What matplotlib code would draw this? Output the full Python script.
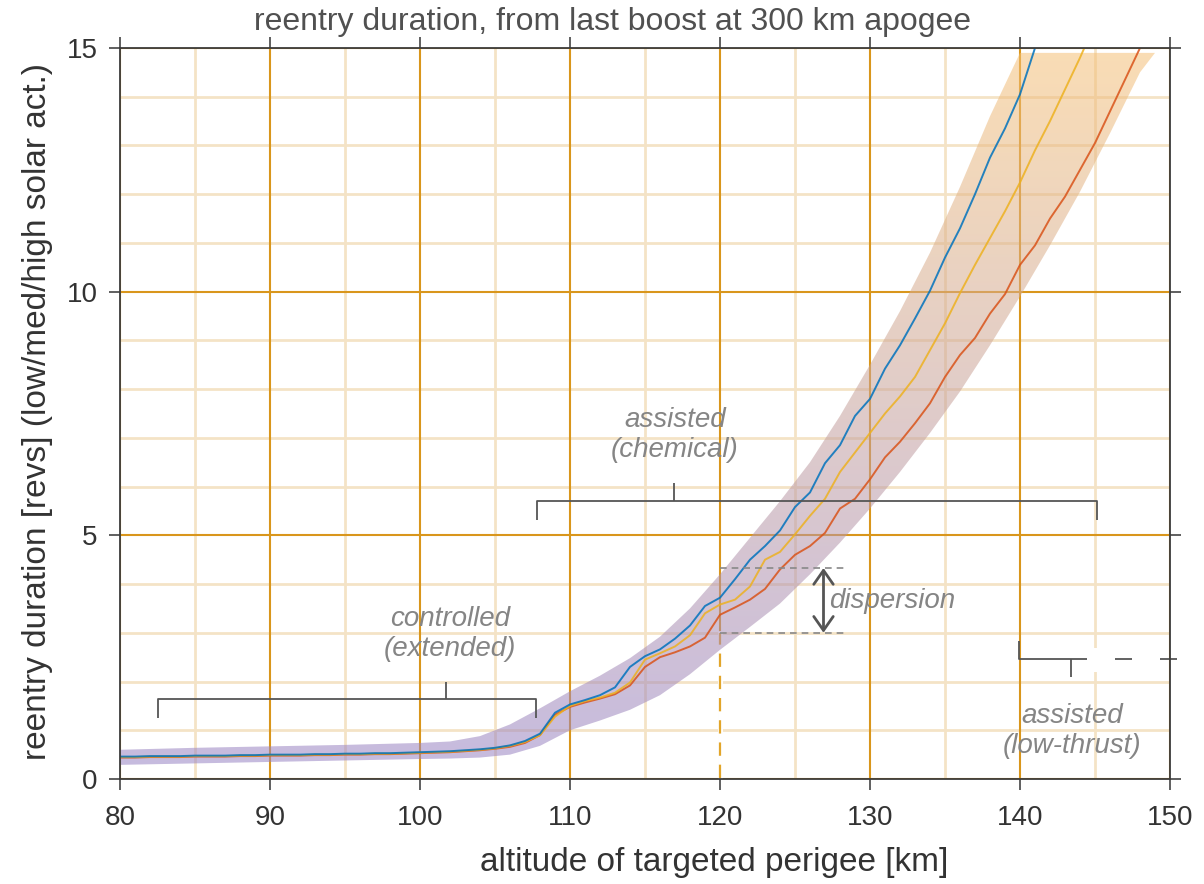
import numpy as np
import matplotlib
matplotlib.use("Agg")
import matplotlib.pyplot as plt
from matplotlib.patches import Rectangle

plt.rcParams['font.family'] = ['Liberation Sans', 'DejaVu Sans']

# targeted perigee altitude [km], 1 km steps
alt = np.arange(80, 149)

# reentry duration [revs] for low / medium / high solar activity
revs_low = [0.46, 0.46, 0.47, 0.47, 0.47, 0.48, 0.48, 0.48, 0.49, 0.49,
            0.50, 0.50, 0.50, 0.51, 0.51, 0.52, 0.52, 0.53, 0.53, 0.54,
            0.55, 0.56, 0.57, 0.59, 0.61, 0.64, 0.69, 0.78, 0.93, 1.36,
            1.53, 1.62, 1.72, 1.88, 2.30, 2.52, 2.66, 2.88, 3.15, 3.55,
            3.72, 4.10, 4.50, 4.78, 5.10, 5.58, 5.88, 6.48, 6.85, 7.45,
            7.80, 8.42, 8.90, 9.45, 10.02, 10.70, 11.30, 12.00, 12.75, 13.35,
            14.05, 15.00, 15.90]
revs_med = [0.45, 0.45, 0.46, 0.46, 0.46, 0.47, 0.47, 0.47, 0.48, 0.48,
            0.49, 0.49, 0.49, 0.50, 0.50, 0.51, 0.51, 0.52, 0.52, 0.53,
            0.54, 0.55, 0.56, 0.58, 0.60, 0.63, 0.68, 0.76, 0.90, 1.28,
            1.50, 1.60, 1.67, 1.77, 1.98, 2.45, 2.58, 2.72, 2.95, 3.40,
            3.58, 3.68, 3.95, 4.50, 4.66, 5.02, 5.40, 5.75, 6.30, 6.70,
            7.10, 7.50, 7.85, 8.25, 8.80, 9.35, 9.97, 10.55, 11.10, 11.65,
            12.24, 12.90, 13.50, 14.15, 14.80, 15.50]
revs_high = [0.44, 0.44, 0.45, 0.45, 0.45, 0.46, 0.46, 0.46, 0.47, 0.47,
             0.48, 0.48, 0.48, 0.49, 0.49, 0.50, 0.50, 0.51, 0.51, 0.52,
             0.53, 0.54, 0.55, 0.57, 0.59, 0.62, 0.66, 0.74, 0.90, 1.32,
             1.48, 1.57, 1.65, 1.74, 1.92, 2.30, 2.50, 2.60, 2.72, 2.90,
             3.37, 3.52, 3.68, 3.90, 4.30, 4.60, 4.78, 5.05, 5.55, 5.75,
             6.15, 6.60, 6.92, 7.30, 7.71, 8.25, 8.70, 9.05, 9.55, 9.95,
             10.55, 10.95, 11.50, 11.95, 12.50, 13.05, 13.70, 14.35, 15.00]

# dispersion envelope
band_alt = [80, 85, 90, 95, 100, 102, 104, 106, 108, 110, 112, 114, 116, 118,
            120, 122, 124, 126, 128, 130, 132, 134, 136, 138, 140, 142, 144,
            146, 148, 149]
band_upper = [0.60, 0.64, 0.67, 0.70, 0.74, 0.77, 0.88, 1.12, 1.45, 1.80,
              2.12, 2.48, 2.92, 3.50, 4.20, 4.95, 5.70, 6.50, 7.45, 8.50,
              9.60, 10.80, 12.15, 13.60, 15.15, 16.80, 18.50, 20.20, 21.90, 22.80]
band_lower = [0.29, 0.32, 0.35, 0.38, 0.41, 0.42, 0.44, 0.50, 0.68, 1.00,
              1.20, 1.42, 1.72, 2.15, 2.65, 3.12, 3.60, 4.20, 4.85, 5.55,
              6.30, 7.10, 7.95, 8.90, 9.90, 10.95, 12.05, 13.25, 14.50, 15.15]
band_cap = 14.9

x_major = [80, 90, 100, 110, 120, 130, 140, 150]
y_major = [0, 5, 10, 15]

W, H = 1204, 884
fig = plt.figure(figsize=(W / 100, H / 100), dpi=100)
ax = fig.add_axes([120 / W, 1 - 779 / H, 1050 / W, 731 / H])
ax.set_xlim(80, 150)
ax.set_ylim(0, 15)

# grid
for xv in np.arange(85, 150, 10):
    ax.axvline(xv, color='#f4e3c6', lw=2.0, zorder=0.5)
for yv in range(1, 15):
    if yv % 5:
        ax.axhline(yv, color='#f4e3c6', lw=2.0, zorder=0.5)
for xv in x_major:
    ax.axvline(xv, color='#d9961c', lw=1.5, zorder=0.6)
for yv in y_major:
    ax.axhline(yv, color='#d9961c', lw=1.5, zorder=0.6)

# dashed marker at 120 km below the dispersion range
ax.plot([120, 120], [0, 3.0], color='white', lw=3.5, zorder=0.8)
ax.plot([120, 120], [0.02, 3.0], color='#e2a52a', lw=1.6, ls=(0, (6, 4)), zorder=0.9)

# gradient-filled envelope
up = np.minimum(band_upper, band_cap)
lo = np.minimum(band_lower, band_cap)
env = ax.fill_between(band_alt, lo, up, facecolor='none', edgecolor='none')
t = np.linspace(0, 1, 256)[:, None]
purple = np.array([150, 130, 197]) / 255
orange = np.array([246, 193, 119]) / 255
rgb = purple * (1 - t) + orange * t
img = np.zeros((256, 2, 4))
img[:, :, :3] = rgb[:, None, :]
img[:, :, 3] = 0.55
im = ax.imshow(img, origin='lower', extent=[80, 150, 0, 15], aspect='auto',
               interpolation='bilinear', zorder=2)
im.set_clip_path(env.get_paths()[0], transform=ax.transData)

# solar activity curves
for revs, col in ((revs_high, '#D95319'), (revs_med, '#EDB120'), (revs_low, '#0072BD')):
    ax.plot(alt[:len(revs)], revs, color=col, lw=1.4, alpha=0.85, zorder=4)

br = dict(color='#555555', lw=1.3, zorder=5, solid_capstyle='butt')
# controlled (extended)
ax.plot([82.5, 82.5, 107.7, 107.7], [1.25, 1.64, 1.64, 1.25], **br)
ax.plot([101.7, 101.7], [1.64, 2.0], **br)
# assisted (chemical)
ax.plot([107.8, 107.8, 145.1, 145.1], [5.32, 5.70, 5.70, 5.32], **br)
ax.plot([116.9, 116.9], [5.70, 6.07], **br)
# assisted (low-thrust)
ax.add_patch(Rectangle((144.5, 2.2), 1.8, 0.49, facecolor='white',
                       edgecolor='none', zorder=1))
ax.plot([139.9, 139.9, 144.45], [2.83, 2.46, 2.46], **br)
ax.plot([143.4, 143.4], [2.46, 2.1], **br)
ax.plot([146.33, 147.47], [2.46, 2.46], clip_on=False, **br)
ax.plot([149.33, 150.47], [2.46, 2.46], clip_on=False, **br)

# dispersion indicator
for yv in (4.33, 3.0):
    ax.plot([120, 128.5], [yv, yv], color='#888888', lw=1.2, ls=(0, (4, 3)), zorder=5)
ax.annotate('', xy=(126.9, 4.33), xytext=(126.9, 3.0),
            arrowprops=dict(arrowstyle='<->, head_length=0.5, head_width=0.35',
                            color='#555555', lw=2, mutation_scale=20,
                            shrinkA=0, shrinkB=0), zorder=6)

note = dict(fontsize=20, style='italic', color='#858585', zorder=6,
            linespacing=1.2)
ax.text(117.0, 7.06, 'assisted\n(chemical)', ha='center', va='center', **note)
ax.text(102.0, 2.97, 'controlled\n(extended)', ha='center', va='center', **note)
ax.text(127.3, 3.65, 'dispersion', ha='left', va='center', **note)
ax.text(143.5, 0.99, 'assisted\n(low-thrust)', ha='center', va='center', **note)

# axes styling
ax.set_xticks(x_major)
ax.set_yticks(y_major)
ax.tick_params(axis='both', direction='out', length=8, width=1.2, color='#444444',
               labelsize=20, labelcolor='#333333', top=True, right=True)
ax.tick_params(axis='x', pad=11)
ax.tick_params(axis='y', pad=8)
for s in ax.spines.values():
    s.set_color('#3c3c3c')
    s.set_linewidth(1.3)
    s.set_zorder(7)

fig.text(612 / W, 1 - 22 / H, 'reentry duration, from last boost at 300 km apogee',
         ha='center', va='center', fontsize=23, color='#505050')
fig.text(714 / W, 1 - 862 / H, 'altitude of targeted perigee [km]',
         ha='center', va='center', fontsize=24, color='#333333')
fig.text(38 / W, 1 - 412 / H, 'reentry duration [revs] (low/med/high solar act.)',
         ha='center', va='center', rotation=90, fontsize=24, color='#333333')

fig.savefig('out.png', dpi=100)
